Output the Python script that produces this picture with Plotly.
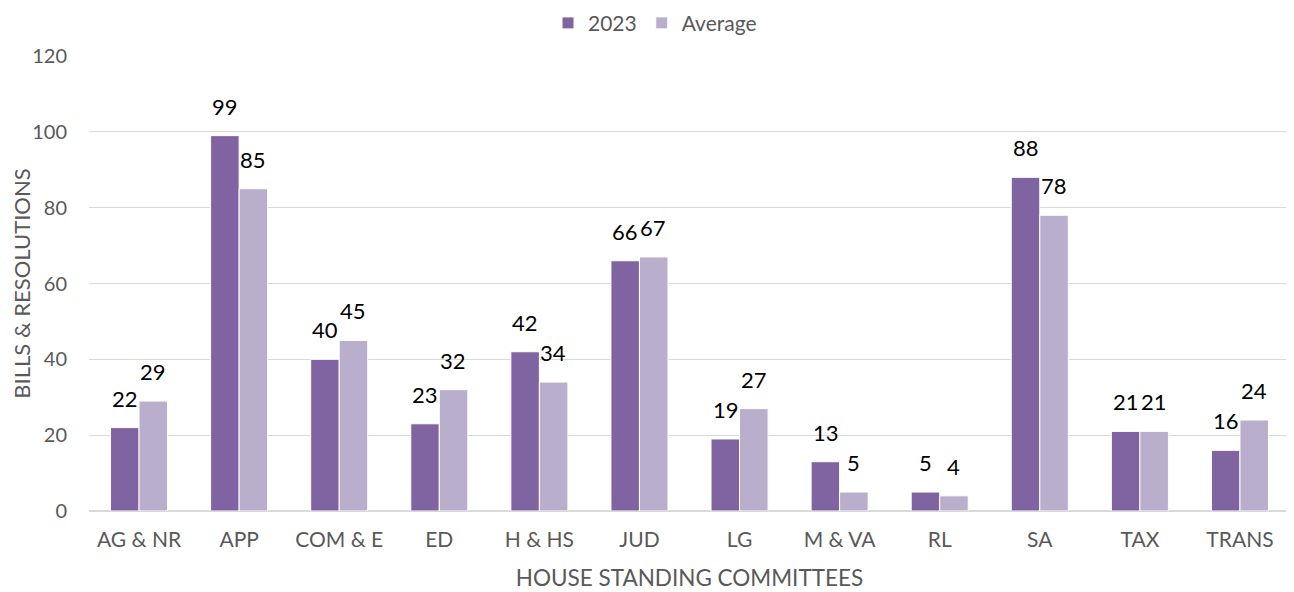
import plotly.graph_objects as go

categories = ["AG & NR", "APP", "COM & E", "ED", "H & HS", "JUD", "LG", "M & VA", "RL", "SA", "TAX", "TRANS"]
values_2023 = [22, 99, 40, 23, 42, 66, 19, 13, 5, 88, 21, 16]
values_avg = [29, 85, 45, 32, 34, 67, 27, 5, 4, 78, 21, 24]

FONT = "Lato, Open Sans, sans-serif"
GREY = "#595959"
fig = go.Figure()
fig.add_trace(go.Bar(name="2023", x=categories, y=values_2023, marker=dict(color="#8064A2", line=dict(color="white", width=1))))
fig.add_trace(go.Bar(name="Average", x=categories, y=values_avg, marker=dict(color="#B9AECB", line=dict(color="white", width=1))))

annotations = []
for cat, v in zip(categories, values_2023):
    annotations.append(dict(x=cat, y=v, text=str(v), showarrow=False, xshift=-14, yshift=14, yanchor="bottom",
                            font=dict(size=22, color="black", family=FONT)))
for cat, v in zip(categories, values_avg):
    annotations.append(dict(x=cat, y=v, text=str(v), showarrow=False, xshift=14, yshift=14, yanchor="bottom",
                            font=dict(size=22, color="black", family=FONT)))

fig.update_layout(
    width=1294, height=592, barmode="group", bargap=0.43, bargroupgap=0,
    plot_bgcolor="white", paper_bgcolor="white",
    margin=dict(l=81, r=12, t=48, b=89, autoexpand=False),
    font=dict(family=FONT, color=GREY, size=19),
    legend=dict(orientation="h", x=0.5, xanchor="center", xref="container", y=1.072, yanchor="middle", yref="paper",
                font=dict(size=21, color=GREY), traceorder="normal", itemwidth=30),
    annotations=annotations,
)
fig.update_yaxes(range=[0, 120], dtick=20, gridcolor="#D9D9D9", gridwidth=1, zeroline=True, zerolinecolor="#D9D9D9",
                 title=dict(text="BILLS & RESOLUTIONS", font=dict(size=22, color=GREY), standoff=20),
                 tickfont=dict(size=20, color=GREY), ticks="", showline=False, ticklabelstandoff=21)
fig.update_xaxes(title=dict(text="HOUSE STANDING COMMITTEES", font=dict(size=22.5, color=GREY), standoff=20),
                 tickfont=dict(size=21, color=GREY), showline=True, linecolor="#D9D9D9", ticks="", ticklabelstandoff=10)
fig.write_html("out.html")
